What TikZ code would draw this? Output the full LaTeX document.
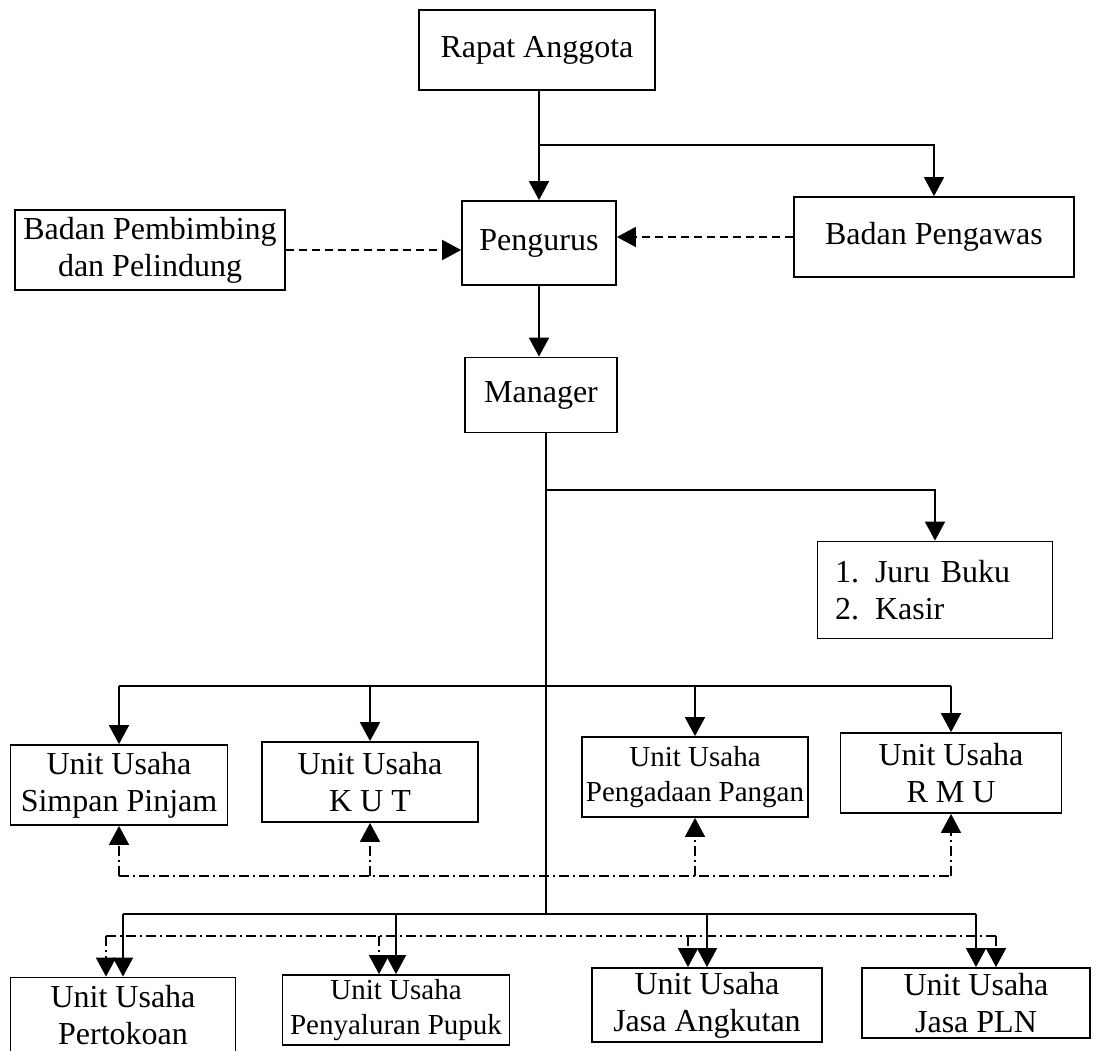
\documentclass[tikz,border=0pt]{standalone}
\usepackage{fontspec}
\setmainfont{Liberation Serif}
\usepackage{tikz}
\usetikzlibrary{arrows.meta}

\begin{document}
\begin{tikzpicture}[x=0.5pt, y=-0.5pt,
      every node/.style={font=\fontsize{16}{18.5}\selectfont},
      box/.style={draw, line width=0.9pt, align=center, inner sep=2pt},
      unit/.style={box, minimum height=40pt},
      lowunit/.style={box, minimum height=35pt},
      smaller/.style={font=\fontsize{14.5}{17.5}\selectfont},
      line/.style={line width=0.9pt},
      arr/.style={line, -{Triangle[length=9.5pt,width=10pt]}},
      dsh/.style={arr, dash pattern=on 4pt off 2.5pt},
      dd/.style={line, dash pattern=on 5pt off 2pt on 1pt off 2pt},
      ddarr/.style={dd, -{Triangle[length=9.5pt,width=10pt]}}
    ]
    \useasboundingbox (0,0) rectangle (1096,1050);

    \node[box, minimum width=118pt, minimum height=40pt] (rapat) at (537,50) {Rapat Anggota};
    \node[box, minimum width=77pt, minimum height=42pt] (pengurus) at (539,243) {Pengurus};
    \node[box, minimum width=135pt, minimum height=40pt] (pembimbing) at (150,250) {Badan Pembimbing\\dan Pelindung};
    \node[box, minimum width=140pt, minimum height=40pt] (pengawas) at (934,237) {Badan Pengawas};
    \node[box, minimum width=76pt, minimum height=37.5pt] (manager) at (541,395) {Manager};
    \node[box, align=left, text width=100pt, inner xsep=8.75pt, minimum height=48.5pt] (kasir) at (935,590) {1. Juru Buku\\2. Kasir};

    \node[unit, minimum width=108.5pt] (simpan) at (119,785) {Unit Usaha\\Simpan Pinjam};
    \node[unit, minimum width=108pt] (kut) at (370,782) {Unit Usaha\\K U T};
    \node[unit, smaller, minimum width=109pt] (pangan) at (695,777) {Unit Usaha\\Pengadaan Pangan};
    \node[unit, minimum width=110.5pt] (rmu) at (951,773) {Unit Usaha\\R M U};

    \node[box, minimum width=112.5pt, minimum height=37.5pt] (toko) at (123,1015) {Unit Usaha\\Pertokoan};
    \node[lowunit, smaller, minimum width=113.5pt] (pupuk) at (396,1010) {Unit Usaha\\Penyaluran Pupuk};
    \node[lowunit, minimum width=115pt] (angkutan) at (707,1005) {Unit Usaha\\Jasa Angkutan};
    \node[lowunit, minimum width=114pt] (pln) at (976,1003) {Unit Usaha\\Jasa PLN};

    \coordinate (top) at (0,145);
    \coordinate (bus1) at (0,490);
    \coordinate (bus2) at (0,686);
    \coordinate (bus3) at (0,914);
    \coordinate (dd1) at (0,876);
    \coordinate (dd2) at (0,936);
    \coordinate (trunk) at ([xshift=2.5pt]manager.south);

    \draw[arr] (rapat.south -| pengurus) -- (pengurus);
    \draw[arr] (pengurus |- top) -| (pengawas);
    \draw[dsh] (pembimbing.east) -- (pembimbing.east -| pengurus.west);
    \draw[dsh] (pengawas.west) -- (pengawas.west -| pengurus.east);
    \draw[arr] (pengurus.south) -- (pengurus.south |- manager.north);

    \draw[line] (trunk) -- (trunk |- bus3);
    \draw[arr] (trunk |- bus1) -| (kasir);

    \draw[line] (simpan |- bus2) -- (rmu |- bus2);
    \foreach \u in {simpan,kut,pangan,rmu}
      \draw[arr] (\u |- bus2) -- (\u);
    \draw[dd] (simpan |- dd1) -- (rmu |- dd1);
    \foreach \u in {simpan,kut,pangan,rmu}
      \draw[ddarr] (\u |- dd1) -- (\u);

    \draw[line] (toko |- bus3) -- (pln |- bus3);
    \foreach \u in {toko,pupuk,angkutan,pln}
      \draw[arr] (\u |- bus3) -- (\u);
    \foreach \u/\dx in {toko/-17,pupuk/-17,angkutan/-19,pln/20}
      \coordinate (d\u) at ([shift={(\dx,0)}]\u.north);
    \draw[dd] (dtoko |- dd2) -- (dpln |- dd2);
    \foreach \u in {toko,pupuk,angkutan,pln}
      \draw[ddarr] (d\u |- dd2) -- (d\u);
  \end{tikzpicture}
\end{document}
